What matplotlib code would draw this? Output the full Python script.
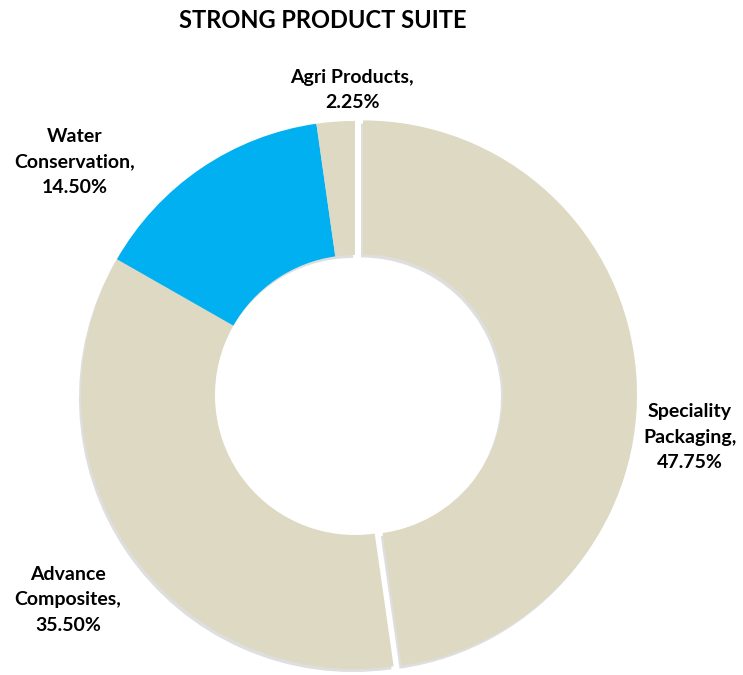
import matplotlib
matplotlib.use("Agg")
import matplotlib.pyplot as plt

# segment shares, clockwise from 12 o'clock
segments = ["Speciality Packaging", "Advance Composites", "Water Conservation", "Agri Products"]
shares = [47.75, 35.50, 14.50, 2.25]
label_lines = [["Speciality", "Packaging,"], ["Advance", "Composites,"], ["Water", "Conservation,"], ["Agri Products,"]]
colors = ["#DDD9C3", "#DDD9C3", "#00B0F0", "#DDD9C3"]

W, H = 743, 675
fig = plt.figure(figsize=(W / 100, H / 100), dpi=100)
ax = fig.add_axes([0, 0, 1, 1])

cx, cy = 355, H - 395
r = 274
ring = 134
explode = [8, 0, 0, 0]  # pie offsets are in data units here

# faint shadow under the ring
ax.pie(shares, radius=r, center=(cx - 2, cy - 3), startangle=90, counterclock=False,
       explode=explode, colors=["#c9c9c9"] * 4, frame=True,
       wedgeprops=dict(width=ring, edgecolor="none", alpha=0.6))
ax.pie(shares, radius=r, center=(cx, cy), startangle=90, counterclock=False,
       explode=explode, colors=colors, frame=True,
       wedgeprops=dict(width=ring, edgecolor="none"))
ax.set_xlim(0, W)
ax.set_ylim(0, H)
ax.set_aspect("equal")
ax.axis("off")

font = "Lato"
label_pos = [(690, 437), (68, 600), (75, 162), (352, 90)]
for lines, val, (x, y) in zip(label_lines, shares, label_pos):
    txt = "\n".join(lines + [f"{val:.2f}%"])
    ax.text(x, H - y, txt, ha="center", va="center", fontsize=14, fontweight="bold",
            family=font, linespacing=1.62, color="#000000")

ax.text(323, H - 20, "STRONG PRODUCT SUITE", ha="center", va="center", fontsize=17,
        fontweight="bold", family=font, color="#000000")

fig.savefig("out.png", dpi=100)
